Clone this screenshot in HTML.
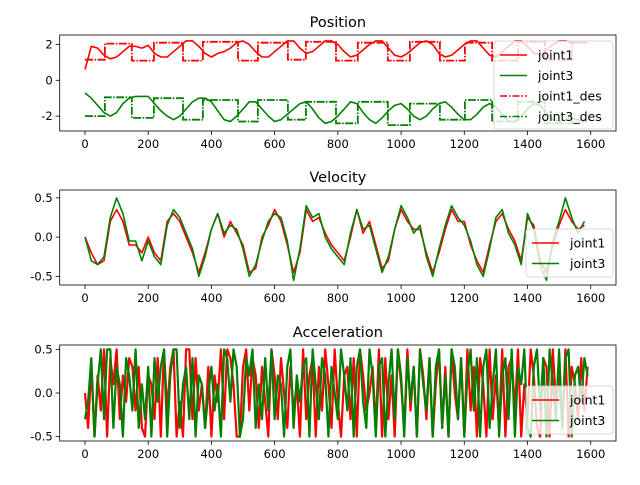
<!DOCTYPE html>
<html><head><meta charset="utf-8"><style>
html,body{margin:0;padding:0;background:#fff}
svg text{font-family:"DejaVu Sans","Liberation Sans",sans-serif;fill:#000}
</style></head><body>
<svg id="fig" width="640" height="480" viewBox="0 0 640 480"></svg>
<script>
// ---------- data ----------
const posX = [0,20,40,60,80,100,120,140,160,180,200,220,240,260,280,300,320,340,360,380,400,420,440,460,480,500,520,540,560,580,600,620,640,660,680,700,720,740,760,780,800,820,840,860,880,900,920,940,960,980,1000,1020,1040,1060,1080,1100,1120,1140,1160,1180,1200,1220,1240,1260,1280,1300,1320,1340,1360,1380,1400,1420,1440,1460,1480,1500,1520,1540,1560,1580];
const joint1Pos = [0.6,1.9,1.8,1.4,1.2,1.3,1.6,1.9,1.9,1.8,1.95,1.5,1.3,1.3,1.6,1.9,2.2,2.2,1.9,1.5,1.3,1.5,1.6,1.8,2.1,2.2,2.0,1.6,1.3,1.3,1.6,1.9,2.2,2.2,1.8,1.5,1.6,1.9,2.2,2.2,2.0,1.6,1.3,1.4,1.7,2.0,2.2,2.2,1.8,1.4,1.3,1.5,1.8,2.1,2.2,2.0,1.5,1.3,1.4,1.7,2.0,2.2,2.2,1.8,1.4,1.3,1.6,1.9,2.2,2.2,1.9,1.5,1.4,1.7,2.0,2.2,2.2,2.1,2.1,2.1];
const joint3Pos = [-0.7,-1.0,-1.4,-1.8,-2.0,-1.8,-1.3,-1.0,-0.9,-0.9,-0.9,-1.3,-1.7,-2.0,-2.2,-2.0,-1.6,-1.2,-1.0,-1.0,-1.2,-1.7,-2.2,-2.3,-2.0,-1.6,-1.2,-1.2,-1.6,-2.0,-2.3,-2.2,-1.9,-1.6,-1.3,-1.2,-1.6,-2.1,-2.4,-2.3,-2.0,-1.6,-1.2,-1.3,-1.8,-2.2,-2.4,-2.1,-1.7,-1.4,-1.3,-1.6,-2.0,-2.2,-2.0,-1.6,-1.3,-1.2,-1.5,-1.9,-2.2,-2.2,-1.9,-1.5,-1.3,-1.5,-1.9,-2.3,-2.3,-2.0,-1.6,-1.3,-1.4,-1.8,-2.2,-2.3,-2.2,-2.1,-2.2,-2.3];
const desBreaks = [0,63,148,218,310,373,484,547,642,699,794,863,958,1028,1123,1202,1288,1370,1455,1540,1590];
const joint1DesLevel = [1.15,2.05,1.1,2.1,1.1,2.15,1.1,2.1,1.15,2.15,1.1,2.1,1.1,2.15,1.1,2.1,1.1,2.15,1.15,2.1];
const joint3DesLevel = [-2.0,-0.95,-2.1,-1.0,-2.2,-1.1,-2.3,-1.1,-2.2,-1.2,-2.4,-1.2,-2.5,-1.3,-2.2,-1.1,-2.3,-1.2,-2.4,-2.3];
const velX = posX;
const joint1Vel = [0.0,-0.2,-0.35,-0.3,0.2,0.35,0.2,-0.1,-0.1,-0.2,0.0,-0.2,-0.3,0.2,0.3,0.2,0.0,-0.2,-0.45,-0.2,0.1,0.3,0.0,0.2,0.05,-0.1,-0.45,-0.4,0.0,0.15,0.35,0.2,-0.1,-0.45,-0.2,0.35,0.2,0.25,0.05,-0.1,-0.2,-0.3,0.0,0.35,0.05,0.2,-0.1,-0.4,-0.3,0.1,0.35,0.2,0.1,0.1,-0.2,-0.45,-0.2,0.1,0.35,0.2,0.2,-0.1,-0.3,-0.45,-0.1,0.2,0.3,0.1,-0.05,-0.3,0.25,0.15,-0.3,-0.45,-0.1,0.15,0.35,0.2,0.1,0.15];
const joint3Vel = [0.0,-0.3,-0.35,-0.25,0.25,0.5,0.3,-0.05,-0.05,-0.3,-0.05,-0.25,-0.35,0.15,0.35,0.25,0.05,-0.15,-0.5,-0.25,0.1,0.3,0.05,0.15,0.1,-0.15,-0.5,-0.35,-0.05,0.2,0.3,0.25,-0.05,-0.55,-0.15,0.4,0.25,0.3,0.0,-0.15,-0.25,-0.35,0.05,0.35,0.1,0.15,-0.15,-0.45,-0.25,0.1,0.4,0.25,0.05,0.15,-0.25,-0.5,-0.15,0.15,0.4,0.25,0.15,-0.05,-0.35,-0.5,-0.15,0.25,0.35,0.05,-0.1,-0.35,0.3,0.1,-0.35,-0.55,-0.05,0.2,0.5,0.25,0.05,0.2];
const accX = Array.from({length:160},(_,i)=>i*10);
const joint1Acc = [0.0,-0.4,0.3,-0.5,0.2,-0.2,0.5,-0.5,0.4,0.1,0.5,-0.3,0.2,-0.1,0.4,0.3,-0.2,0.3,-0.4,-0.5,0.2,0.1,-0.3,0.4,-0.5,0.5,-0.2,0.3,0.5,-0.5,-0.1,-0.5,0.5,0.5,-0.3,0.4,-0.2,0.1,-0.4,0.3,-0.5,0.2,-0.1,0.5,-0.3,0.5,0.4,0.1,-0.5,-0.5,0.3,0.5,-0.2,0.4,0.2,-0.4,0.3,-0.1,-0.5,0.5,0.2,-0.3,0.4,0.0,-0.4,0.3,-0.2,0.1,-0.5,0.5,-0.3,0.2,0.4,-0.5,0.3,-0.2,0.5,0.1,-0.4,0.5,-0.1,-0.5,0.2,0.3,-0.3,0.4,-0.5,0.5,0.2,-0.2,0.0,0.3,-0.4,0.5,-0.5,0.4,-0.3,0.2,-0.5,0.5,0.1,-0.4,0.5,-0.2,0.3,-0.5,0.5,0.2,-0.3,0.4,-0.5,0.1,0.5,-0.4,0.3,-0.5,0.5,0.0,-0.3,0.4,-0.5,0.5,-0.2,0.3,-0.5,0.4,0.1,-0.5,0.5,-0.3,0.2,-0.4,0.5,-0.5,0.3,0.4,-0.2,0.5,-0.5,0.1,-0.3,0.5,0.2,-0.4,-0.5,0.4,0.3,-0.5,0.5,-0.1,0.2,-0.4,0.5,-0.5,0.3,0.1,-0.3,0.4,-0.2,0.3];
const joint3Acc = [-0.3,-0.1,0.4,-0.5,0.1,0.5,-0.3,0.5,0.5,-0.4,0.3,0.1,-0.5,0.4,0.2,-0.2,0.5,-0.4,0.1,-0.3,0.3,-0.5,0.4,-0.1,0.3,0.5,-0.5,0.2,0.5,0.5,-0.4,0.1,0.3,-0.3,0.4,-0.5,0.2,0.1,-0.4,0.0,0.3,-0.2,0.1,-0.5,0.5,0.4,-0.1,0.5,0.3,-0.5,-0.3,0.4,0.2,0.5,-0.4,0.1,-0.3,0.4,-0.2,0.5,-0.3,0.2,0.1,-0.5,0.3,0.5,-0.4,0.2,-0.1,0.3,0.4,-0.5,0.5,0.1,-0.3,0.4,0.2,-0.5,0.3,0.0,-0.3,0.5,0.2,-0.2,0.4,-0.5,0.3,0.5,-0.1,-0.4,0.5,0.2,-0.5,0.3,0.4,-0.5,0.1,0.5,-0.3,0.5,0.2,-0.5,0.4,-0.1,0.3,-0.5,0.5,0.1,-0.2,0.4,-0.5,0.3,0.5,-0.4,0.2,-0.5,0.5,0.3,-0.3,0.4,-0.5,0.2,0.5,-0.2,0.4,-0.5,0.3,0.5,-0.4,0.1,0.5,-0.5,0.2,0.4,-0.3,0.5,-0.5,0.3,0.1,0.5,-0.4,-0.5,0.3,0.5,-0.2,0.4,-0.5,0.5,0.1,-0.3,0.5,-0.4,0.4,0.5,-0.5,0.2,0.3,-0.1,0.4,0.2];
const xTicks = [0,200,400,600,800,1000,1200,1400,1600];
const posTicks = [2,0,-2];
const velTicks = [0.5,0.0,-0.5];
const accTicks = [0.5,0.0,-0.5];

// ---------- drawing ----------
const svg = document.getElementById('fig');
const NS = 'http://www.w3.org/2000/svg';
function mk(tag, attrs, parent){const e=document.createElementNS(NS,tag);for(const k in attrs)e.setAttribute(k,attrs[k]);(parent||svg).appendChild(e);return e;}
const L=59.7, R=616;
const sx = v => L + (v + 80) * (R - L) / 1760;

function panel(name, top, bot, ymin, ymax, yTicks, fmt, title){
  const sy = v => bot - (v - ymin) * (bot - top) / (ymax - ymin);
  const g = mk('g', {});
  
  
  const t = mk('text', {x:(L+R)/2, y:top-8, 'text-anchor':'middle', 'font-size':'14.5'}, g);
  t.textContent = title;
  
  
  xTicks.forEach(v=>{
    mk('line',{x1:sx(v),x2:sx(v),y1:bot,y2:bot+4,stroke:'#000','stroke-width':0.8},g);
    const tl = mk('text',{x:sx(v),y:bot+17,'text-anchor':'middle','font-size':'11.5'},g);
    tl.textContent = v;
    
    
  });
  yTicks.forEach(v=>{
    mk('line',{x1:L-4,x2:L,y1:sy(v),y2:sy(v),stroke:'#000','stroke-width':0.8},g);
    const tl = mk('text',{x:L-7,y:sy(v)+4,'text-anchor':'end','font-size':'11.5'},g);
    tl.textContent = fmt(v);
    
    
  });
  const clipId = 'c'+name;
  const cp = mk('clipPath',{id:clipId},g);
  mk('rect',{x:L,y:top,width:R-L,height:bot-top},cp);
  const plot = mk('g',{'clip-path':'url(#'+clipId+')'},g);
  return {g, plot, sy, top, bot};
}
function line(p, xs, ys, color, name, w){
  const d = xs.map((x,i)=>(i?'L':'M')+sx(x).toFixed(1)+','+p.sy(ys[i]).toFixed(1)).join('');
  const e = mk('path',{d, fill:'none', stroke:color, 'stroke-width':w||1.6, 'stroke-linejoin':'round'}, p.plot);
  
  
}
function steps(p, levels, color, name){
  let d='';
  levels.forEach((lv,i)=>{
    const x0=sx(desBreaks[i]), x1=sx(desBreaks[i+1]);
    d += (i?'L':'M')+x0.toFixed(1)+','+p.sy(lv).toFixed(1)+'L'+x1.toFixed(1)+','+p.sy(lv).toFixed(1);
  });
  const e = mk('path',{d, fill:'none', stroke:color, 'stroke-width':1.8, 'stroke-dasharray':'8,1.5,1.5,1.5'}, p.plot);
  
  
}
function frame(p){ const r = mk('rect',{x:L,y:p.top,width:R-L,height:p.bot-p.top,fill:'none',stroke:'#000','stroke-width':0.8},p.g);
    }
function legend(p, x, y, w, entries){
  const g = mk('g',{}, p.g);
  
  
  mk('rect',{x, y, width:w, height:entries.length*20+8, rx:3, fill:'rgba(255,255,255,0.8)', stroke:'#ccc','stroke-width':0.8},g);
  entries.forEach((en,i)=>{
    const cy = y+14+i*20.5;
    const ln = mk('line',{x1:x+6,x2:x+33,y1:cy,y2:cy,stroke:en[1],'stroke-width':1.5},g);
    if(en[2]) ln.setAttribute('stroke-dasharray','7,2,1.5,2');
    const t = mk('text',{x:x+44,y:cy+4.5,'font-size':'12.5'},g);
    t.textContent = en[0];
    
    
  });
}

const pPos = panel('position', 35, 131, -2.83, 2.53, posTicks, v=>v, 'Position');
steps(pPos, joint1DesLevel, '#ff0000', 'joint1-des-line');
steps(pPos, joint3DesLevel, '#008000', 'joint3-des-line');
line(pPos, posX, joint1Pos, '#ff0000', 'joint1-position-line');
line(pPos, posX, joint3Pos, '#008000', 'joint3-position-line');
frame(pPos);
legend(pPos, 494, 41, 119, [['joint1','#ff0000'],['joint3','#008000'],['joint1_des','#ff0000',1],['joint3_des','#008000',1]]);

const pVel = panel('velocity', 190, 285, -0.61, 0.6, velTicks, v=>v.toFixed(1), 'Velocity');
line(pVel, velX, joint1Vel, '#ff0000', 'joint1-velocity-line');
line(pVel, velX, joint3Vel, '#008000', 'joint3-velocity-line');
frame(pVel);
legend(pVel, 526, 229, 87, [['joint1','#ff0000'],['joint3','#008000']]);

const pAcc = panel('acceleration', 345, 441, -0.55, 0.55, accTicks, v=>v.toFixed(1), 'Acceleration');
line(pAcc, accX, joint1Acc, '#ff0000', 'joint1-acceleration-line', 2.2);
line(pAcc, accX, joint3Acc, '#008000', 'joint3-acceleration-line', 2.2);
frame(pAcc);
legend(pAcc, 526, 386, 87, [['joint1','#ff0000'],['joint3','#008000']]);
</script>
</body></html>
